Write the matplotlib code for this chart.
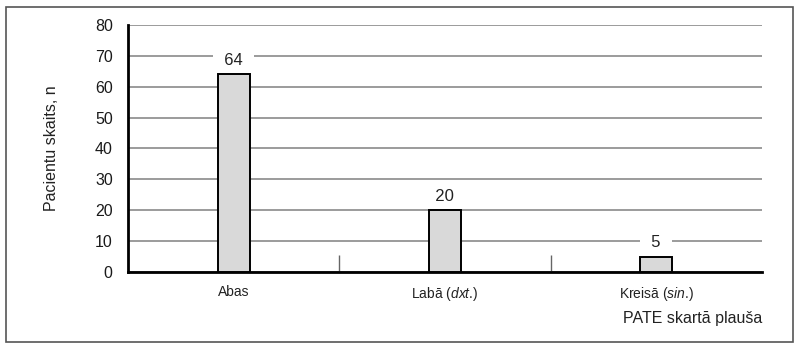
import matplotlib.pyplot as plt
from matplotlib.patches import Rectangle

# PATE affected lung
categories = ['Abas', 'Labā ($\\it{dxt}$.)', 'Kreisā ($\\it{sin}$.)']
patients = [64, 20, 5]
y_ticks = [0, 10, 20, 30, 40, 50, 60, 70, 80]

plt.rcParams['font.family'] = ['Liberation Sans', 'DejaVu Sans']
plt.rcParams['mathtext.fontset'] = 'custom'
plt.rcParams['mathtext.it'] = 'Liberation Sans:italic'
plt.rcParams['mathtext.rm'] = 'Liberation Sans'

fig = plt.figure(figsize=(8, 3.51), dpi=100)
fig.patches.append(Rectangle((0.0075, 0.026), 0.984, 0.954, transform=fig.transFigure,
                             fill=False, edgecolor='#555555', linewidth=1.2))

ax = fig.add_axes([0.16, 0.225, 0.7925, 0.704])
x = range(len(categories))
ax.bar(x, patients, width=0.15, color='#d9d9d9', edgecolor='black', linewidth=1.4, zorder=3)

for i, v in enumerate(patients):
    ax.text(i, v + 4.5, f'  {v}  ', ha='center', va='center', fontsize=12, color='#222222', zorder=2.5,
            bbox=dict(facecolor='white', edgecolor='none', pad=1.5))

ax.set_xlim(-0.5, 2.5)
ax.set_ylim(0, 80)
ax.set_yticks(y_ticks)
ax.yaxis.grid(True, color='#8a8a8a', linewidth=1.2, zorder=0)
ax.set_axisbelow(True)

ax.set_xticks(list(x))
ax.set_xticklabels(categories, fontsize=10, color='#222222')
ax.tick_params(axis='x', length=0, pad=9)
ax.set_xticks([0.5, 1.5], minor=True)
ax.tick_params(axis='x', which='minor', direction='in', length=12, width=1, color='#666666')
ax.tick_params(axis='y', length=0, pad=11, labelsize=11.5, labelcolor='#1a1a1a')

for s in ['top', 'right']:
    ax.spines[s].set_visible(False)
ax.spines['left'].set_linewidth(2)
ax.spines['bottom'].set_linewidth(2)

ax.set_ylabel('Pacientu skaits, n', fontsize=11.5, color='#222222', labelpad=26)
fig.text(0.9525, 0.094, 'PATE skartā plauša', ha='right', va='center', fontsize=11.5, color='#222222')

fig.savefig('out.png', dpi=100)
